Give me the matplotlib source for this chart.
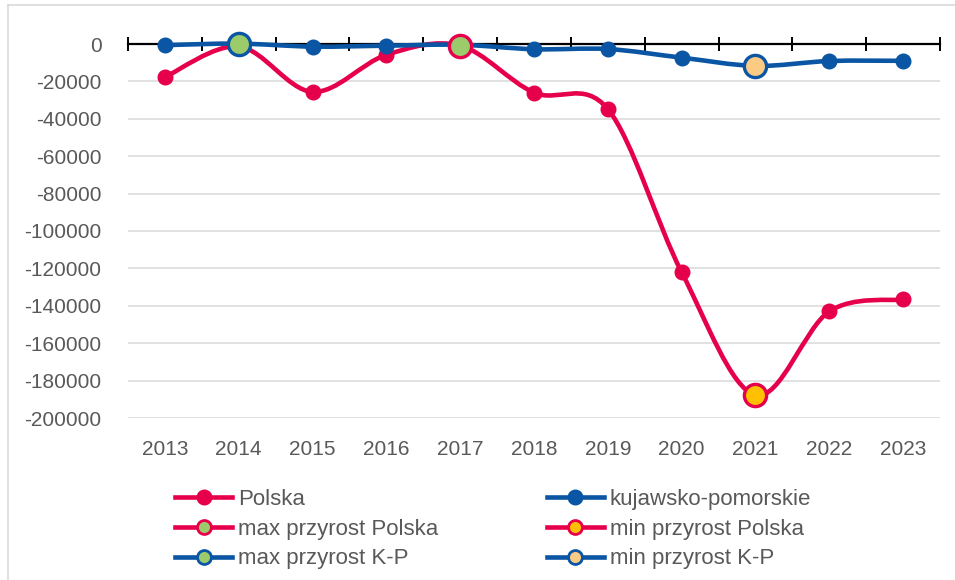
import numpy as np
import matplotlib
matplotlib.use('Agg')
import matplotlib.pyplot as plt
from matplotlib.path import Path
from matplotlib.patches import PathPatch
from matplotlib.lines import Line2D

years = [2013, 2014, 2015, 2016, 2017, 2018, 2019, 2020, 2021, 2022, 2023]
polska = [-17700, -1300, -25600, -5800, -900, -26000, -34800, -122000, -187800, -143000, -136600]
kp = [-600, 200, -1400, -900, -400, -2800, -2700, -7300, -11700, -9100, -9000]

y_ticks = [0, -20000, -40000, -60000, -80000, -100000, -120000, -140000, -160000, -180000, -200000]

red = '#E6004C'
blue = '#0B56A4'
green = '#9BCB6B'
gold = '#FFC000'
peach = '#FBCB84'
grey_text = '#595959'

plt.rcParams['font.family'] = ['Liberation Sans', 'DejaVu Sans']
FS = 15


def smooth_path(xs, ys):
    # Excel-like smoothed line: Catmull-Rom as cubic bezier
    pts = np.column_stack([xs, ys]).astype(float)
    n = len(pts)
    verts = [pts[0]]
    codes = [Path.MOVETO]
    for i in range(n - 1):
        p0 = pts[i - 1] if i > 0 else pts[i]
        p1 = pts[i]
        p2 = pts[i + 1]
        p3 = pts[i + 2] if i + 2 < n else pts[i + 1]
        c1 = p1 + (p2 - p0) / 6.0
        c2 = p2 - (p3 - p1) / 6.0
        verts += [c1, c2, p2]
        codes += [Path.CURVE4] * 3
    return Path(verts, codes)


fig = plt.figure(figsize=(9.55, 5.8), dpi=100)
ax = fig.add_axes([128 / 955, 1 - 418 / 580, (940 - 128) / 955, (418 - 44) / 580])

ax.set_xlim(2012.5, 2023.5)
ax.set_ylim(-200000, 0)

for y in y_ticks[1:]:
    ax.axhline(y, color='#D9D9D9', lw=1.1, zorder=0)

lw = 3.3
ms = 10.5
big = 16
for vals, col in [(polska, red), (kp, blue)]:
    ax.add_patch(PathPatch(smooth_path(years, vals), fill=False, edgecolor=col,
                           lw=lw, capstyle='round', joinstyle='round', zorder=3, clip_on=False))
    ax.plot(years, vals, ls='none', marker='o', ms=ms, color=col, zorder=4, clip_on=False)

# highlighted extremes
i_max_pl = int(np.argmax(polska))
i_min_pl = int(np.argmin(polska))
i_max_kp = int(np.argmax(kp))
i_min_kp = int(np.argmin(kp))
ax.plot(years[i_max_pl], polska[i_max_pl], marker='o', ms=big, mfc=green, mec=red, mew=2.4, zorder=5, clip_on=False)
ax.plot(years[i_min_pl], polska[i_min_pl], marker='o', ms=big, mfc=gold, mec=red, mew=2.4, zorder=5, clip_on=False)
ax.plot(years[i_max_kp], kp[i_max_kp], marker='o', ms=big, mfc=green, mec=blue, mew=2.4, zorder=5, clip_on=False)
ax.plot(years[i_min_kp], kp[i_min_kp], marker='o', ms=big, mfc=peach, mec=blue, mew=2.4, zorder=5, clip_on=False)

# axes styling
for s in ['left', 'right', 'bottom']:
    ax.spines[s].set_visible(False)
ax.spines['top'].set_color('black')
ax.spines['top'].set_linewidth(1.6)
ax.spines['top'].set_zorder(2)

ax.set_yticks(y_ticks)
ax.set_yticklabels([str(v) for v in y_ticks])
ax.tick_params(axis='y', length=0, pad=19, labelsize=FS, labelcolor=grey_text)

ax.set_xticks(years)
ax.set_xticklabels([str(y) for y in years])
ax.set_xticks(np.arange(2012.5, 2024, 1), minor=True)
ax.tick_params(axis='x', which='major', length=0, pad=16, labelsize=FS, labelcolor=grey_text)
ax.tick_params(axis='x', which='minor', top=True, bottom=False, direction='inout',
               length=10, width=1.4, color='black')

# legend
def handle(col, fill, size):
    return Line2D([], [], color=col, lw=lw, marker='o', ms=size, mfc=fill, mec=col, mew=2)

handles = [handle(red, red, 9.5), handle(red, green, 10), handle(blue, green, 10),
           handle(blue, blue, 9.5), handle(red, gold, 10), handle(blue, peach, 10)]
labels = ['Polska', 'max przyrost Polska', 'max przyrost K-P',
          'kujawsko-pomorskie', 'min przyrost Polska', 'min przyrost K-P']
leg = fig.legend(handles, labels, ncol=2, loc='center', bbox_to_anchor=(493 / 955, 1 - 529 / 580),
                 frameon=False, fontsize=16, handlelength=2.57, handletextpad=0.25,
                 columnspacing=4.9, labelspacing=0.4)
for t in leg.get_texts():
    t.set_color(grey_text)

# chart border
fig.add_artist(Line2D([8 / 955, 8 / 955], [0, 1 - 5 / 580], color='#D9D9D9', lw=1.2))
fig.add_artist(Line2D([8 / 955, 1], [1 - 5 / 580, 1 - 5 / 580], color='#D9D9D9', lw=1.2))

fig.savefig('out.png', dpi=100)
